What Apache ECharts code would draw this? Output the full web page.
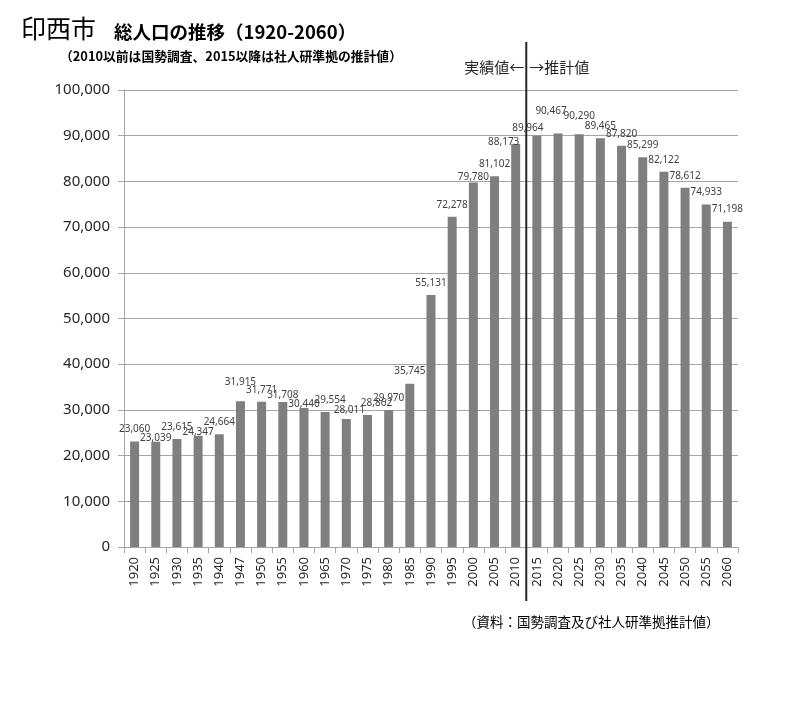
<!DOCTYPE html>
<html>
<head>
<meta charset="utf-8">
<script src="https://cdn.jsdelivr.net/npm/echarts@6/dist/echarts.min.js"></script>
<style>
html,body{margin:0;padding:0;background:#fff;}
#chart{width:800px;height:703px;}
</style>
</head>
<body>
<div id="chart"></div>
<script>
// ---- data ----
const years = ['1920','1925','1930','1935','1940','1947','1950','1955','1960','1965','1970','1975','1980','1985','1990','1995','2000','2005','2010','2015','2020','2025','2030','2035','2040','2045','2050','2055','2060'];
const population = [23060,23039,23615,24347,24664,31915,31771,31708,30440,29554,28011,28862,29970,35745,55131,72278,79780,81102,88173,89964,90467,90290,89465,87820,85299,82122,78612,74933,71198];
const yMin = 0, yMax = 100000, yStep = 10000;
const titleMain = '印西市';
const titleSub = '総人口の推移（1920-2060）';
const titleNote = '（2010以前は国勢調査、2015以降は社人研準拠の推計値）';
const actualLabel = '実績値←';
const forecastLabel = '→推計値';
const sourceNote = '（資料：国勢調査及び社人研準拠推計値）';
const lastActualYear = '2010', firstForecastYear = '2015';

// label placement tweaks (style only)
const labelNudge = {
  '1925':[0,8],'1935':[0,8],'1947':[0,-7],'1955':[0,5],'1960':[0,8],
  '1965':[5,0],'1970':[3,3],'1975':[9,0],'2000':[0,7],
  '2010':[-12,10],'2015':[-9,4],'2020':[-7,-10],'2025':[0,-6]
};

const FONT = '"Noto Sans", "Noto Sans CJK JP", sans-serif';
const CJK = '"Noto Sans CJK JP", "Noto Sans", sans-serif';

const chart = echarts.init(document.getElementById('chart'), null, {renderer:'canvas'});

const barData = population.map((v,i)=>{
  const n = labelNudge[years[i]];
  return n ? {value:v, label:{offset:n}} : {value:v};
});

const baseGraphics = [
  {type:'text', left:21, top:16, style:{text:titleMain, font:'normal 25px '+CJK, fill:'#000'}},
  {type:'text', left:114, top:23, style:{text:titleSub, font:'bold 18.5px '+CJK, fill:'#000'}},
  {type:'text', left:60, top:50, style:{text:titleNote, font:'bold 12.8px '+CJK, fill:'#000'}},
  {type:'text', left:463, top:615, style:{text:sourceNote, font:'normal 13.5px '+CJK, fill:'#000'}}
];

chart.setOption({
  backgroundColor:'#ffffff',
  animation:false,
  grid:{left:124, right:62, top:90, bottom:156, containLabel:false},
  xAxis:{
    type:'category',
    data:years,
    boundaryGap:true,
    axisLine:{show:true, lineStyle:{color:'#a6a6a6', width:1}},
    axisTick:{show:true, length:6, alignWithLabel:false, lineStyle:{color:'#a6a6a6'}},
    axisLabel:{rotate:90, margin:10, fontSize:13, color:'#262626', fontFamily:FONT, interval:0},
    splitLine:{show:false}
  },
  yAxis:{
    type:'value',
    min:yMin, max:yMax, interval:yStep,
    axisLine:{show:true, lineStyle:{color:'#a6a6a6', width:1}},
    axisTick:{show:true, length:6, lineStyle:{color:'#a6a6a6'}},
    axisLabel:{fontSize:15, color:'#262626', fontFamily:FONT, margin:14,
      formatter:v=>v.toLocaleString('en-US')},
    splitLine:{show:true, lineStyle:{color:'#a6a6a6', width:1}}
  },
  series:[{
    type:'bar',
    data:barData,
    barWidth:9,
    itemStyle:{color:'#7f7f7f'},
    label:{show:true, position:'top', distance:7, fontSize:10, color:'#404040', fontFamily:FONT,
      formatter:p=>p.value.toLocaleString('en-US')}
  }],
  graphic:baseGraphics
});

// divider between actual and forecast values
const xa = chart.convertToPixel({xAxisIndex:0}, lastActualYear);
const xb = chart.convertToPixel({xAxisIndex:0}, firstForecastYear);
const xDiv = (xa + xb) / 2;
chart.setOption({
  graphic: baseGraphics.concat([
    {type:'line', shape:{x1:xDiv, y1:42, x2:xDiv, y2:601}, style:{stroke:'#262626', lineWidth:2}, z:100},
    {type:'text', x:xDiv-2, y:67, style:{text:actualLabel, font:'normal 15px '+CJK, fill:'#262626', align:'right', verticalAlign:'middle'}},
    {type:'text', x:xDiv+3, y:67, style:{text:forecastLabel, font:'normal 15px '+CJK, fill:'#262626', align:'left', verticalAlign:'middle'}}
  ])
}, {replaceMerge:['graphic']});
</script>
</body>
</html>
